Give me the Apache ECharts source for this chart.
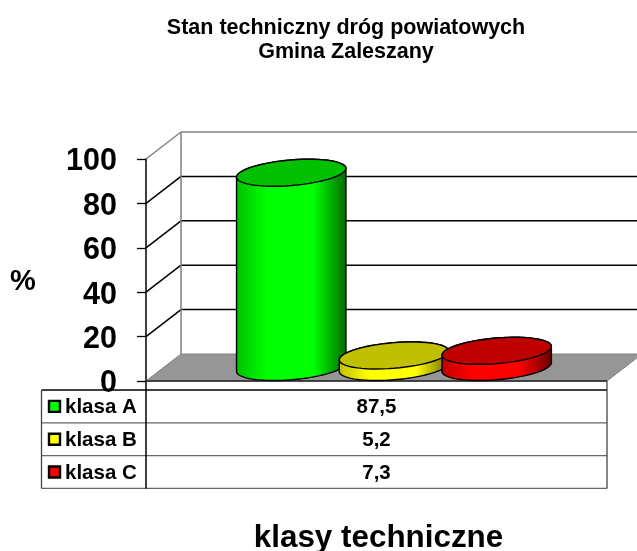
<!DOCTYPE html>
<html lang="pl">
<head>
  <meta charset="UTF-8">
  <title>Stan techniczny dróg powiatowych</title>
  <style>html,body{margin:0;padding:0;background:#fff}</style>
</head>
<body>
  <div id="chart" style="width:637px;height:551px"></div>
  <script src="https://cdn.jsdelivr.net/npm/echarts@6/dist/echarts.min.js"></script>
  <script>
    const categories = ['klasa A', 'klasa B', 'klasa C']
    const values = [87.5, 5.2, 7.3]
    const yTicks = [0, 20, 40, 60, 80, 100]
    const titleLines = ['Stan techniczny dróg powiatowych', 'Gmina Zaleszany']
    const xName = 'klasy techniczne'
    const yName = '%'

    const bright = ['#00ff00', '#ffff00', '#ff0000']
    const dark = ['#006800', '#686800', '#680000']
    const tops = ['#00c000', '#c0c000', '#c00000']

    const font = '"Liberation Sans", Arial, sans-serif'
    const depthX = 35, depthY = 27
    const xMin = -1.414, xMax = 3.074
    const radX = 54.7, radY = 12.8, shear = 0.08

    // sheared ellipse, same look as the excel 3d cylinder
    function ring(cx, cy, from, to) {
      const pts = []
      for (let i = 0; i <= 60; i++) {
        const t = from + (to - from) * i / 60
        const dx = radX * Math.cos(t)
        pts.push([cx + dx, cy + radY * Math.sin(t) - shear * dx])
      }
      return pts
    }

    function renderWall(params, api) {
      const v = api.value(0)
      const a = api.coord([xMin, v])
      const b = api.coord([xMax, v])
      const back = [a[0] + depthX, a[1] - depthY]
      const backEnd = [b[0] + depthX, b[1] - depthY]
      const isTop = v === yTicks[yTicks.length - 1]
      const lineCol = isTop ? '#808080' : '#000'
      const children = []
      if (v === 0) {
        children.push({
          type: 'polygon',
          shape: { points: [a, back, backEnd, b] },
          style: { fill: '#969696', stroke: '#808080', lineWidth: 1 }
        })
        children.push({
          type: 'line',
          shape: { x1: a[0], y1: a[1], x2: b[0], y2: b[1] },
          style: { stroke: '#222', lineWidth: 1.5 }
        })
      } else {
        children.push({
          type: 'line',
          shape: { x1: a[0], y1: a[1], x2: back[0], y2: back[1] },
          style: { stroke: lineCol, lineWidth: 1.5 }
        })
        children.push({
          type: 'line',
          shape: { x1: back[0], y1: back[1], x2: backEnd[0], y2: backEnd[1] },
          style: { stroke: lineCol, lineWidth: 1.5 }
        })
      }
      if (isTop) {
        const zero = api.coord([xMin, 0])
        children.push({
          type: 'line',
          shape: { x1: back[0], y1: back[1], x2: back[0], y2: zero[1] - depthY },
          style: { stroke: '#808080', lineWidth: 1.5 }
        })
      }
      return { type: 'group', children: children }
    }

    function renderCylinder(params, api) {
      const i = api.value(0)
      const topPt = api.coord([i, api.value(1)])
      const basePt = api.coord([i, 0])
      const cx = topPt[0]
      const topY = topPt[1] - 14
      const baseY = basePt[1] - 14
      // body: lower half of the base, then up and over the upper half of the top
      const body = ring(cx, baseY, Math.PI, 0).concat(ring(cx, topY, 0, -Math.PI))
      return {
        type: 'group',
        children: [
          {
            type: 'polygon',
            shape: { points: body },
            style: {
              stroke: '#000',
              lineWidth: 1.4,
              fill: {
                type: 'linear', x: 0, y: 0, x2: 1, y2: 0,
                colorStops: [
                  { offset: 0, color: tops[i] },
                  { offset: 0.28, color: bright[i] },
                  { offset: 0.7, color: bright[i] },
                  { offset: 1, color: dark[i] }
                ]
              }
            }
          },
          {
            type: 'polygon',
            shape: { points: ring(cx, topY, 0, Math.PI * 2) },
            style: { fill: tops[i], stroke: '#000', lineWidth: 1.4 }
          }
        ]
      }
    }

    // data table under the plot
    const tableLeft = 41.5, tableDiv = 146, tableRight = 607, tableTop = 390, rowH = 32.8
    function tableGraphics() {
      const g = []
      function seg(x1, y1, x2, y2, col, w) {
        g.push({ type: 'line', shape: { x1, y1, x2, y2 }, style: { stroke: col, lineWidth: w } })
      }
      categories.forEach(function (name, i) {
        const y = tableTop + rowH * i
        const mid = y + rowH / 2
        seg(tableLeft, y + rowH, tableRight, y + rowH, '#666', 1.3)
        g.push({
          type: 'rect',
          shape: { x: 49, y: mid - 5.5, width: 11, height: 11 },
          style: { fill: bright[i], stroke: '#000', lineWidth: 2.4 }
        })
        g.push({
          type: 'text', x: 65, y: mid + 1,
          style: { text: name, font: 'bold 20.5px ' + font, fill: '#000', verticalAlign: 'middle' }
        })
        g.push({
          type: 'text', x: 376.5, y: mid + 1,
          style: {
            text: String(values[i]).replace('.', ','), font: 'bold 20.5px ' + font, fill: '#000',
            align: 'center', verticalAlign: 'middle'
          }
        })
      })
      seg(tableLeft, tableTop, tableRight, tableTop, '#000', 1.3)
      seg(tableLeft, tableTop, tableLeft, tableTop + rowH * 3, '#444', 1.3)
      seg(tableDiv, 381, tableDiv, tableTop + rowH * 3, '#000', 1.5)
      seg(tableRight, 381, tableRight, tableTop + rowH * 3, '#444', 1.3)
      g.push({
        type: 'text', x: 378.5, y: 538.5,
        style: { text: xName, font: 'bold 31.4px ' + font, fill: '#000', align: 'center', verticalAlign: 'middle' }
      })
      g.push({
        type: 'text', x: 23, y: 281.5,
        style: { text: yName, font: 'bold 29px ' + font, fill: '#000', align: 'center', verticalAlign: 'middle' }
      })
      return g
    }

    const myChart = echarts.init(document.getElementById('chart'))
    myChart.setOption({
      animation: false,
      backgroundColor: '#fff',
      title: {
        text: titleLines.join('\n'),
        left: 341,
        top: 11,
        textAlign: 'center',
        textStyle: { fontFamily: font, fontWeight: 'bold', fontSize: 21.5, lineHeight: 24, color: '#000' }
      },
      grid: { left: 146, width: 461, top: 159, height: 222 },
      xAxis: { type: 'value', min: xMin, max: xMax, show: false },
      yAxis: {
        type: 'value',
        min: 0,
        max: 100,
        interval: 20,
        axisLine: { show: true, onZero: false, lineStyle: { color: '#000', width: 1.5 } },
        axisTick: { show: true, length: 9, lineStyle: { color: '#000', width: 1.3 } },
        axisLabel: {
          margin: 29,
          formatter: '{t|{value}}',
          rich: { t: { padding: [6, 0, 0, 0], fontFamily: font, fontWeight: 'bold', fontSize: 30.5, color: '#000' } }
        },
        splitLine: { show: false }
      },
      graphic: tableGraphics(),
      series: [
        {
          type: 'custom',
          name: 'wall',
          clip: false,
          silent: true,
          z: 1,
          renderItem: renderWall,
          encode: { y: 0 },
          data: yTicks.map(function (t) { return [t] })
        },
        {
          type: 'custom',
          name: 'klasy',
          clip: false,
          silent: true,
          z: 3,
          renderItem: renderCylinder,
          encode: { x: 0, y: 1 },
          data: values.map(function (v, i) { return [i, v] })
        }
      ]
    })
  </script>
</body>
</html>
